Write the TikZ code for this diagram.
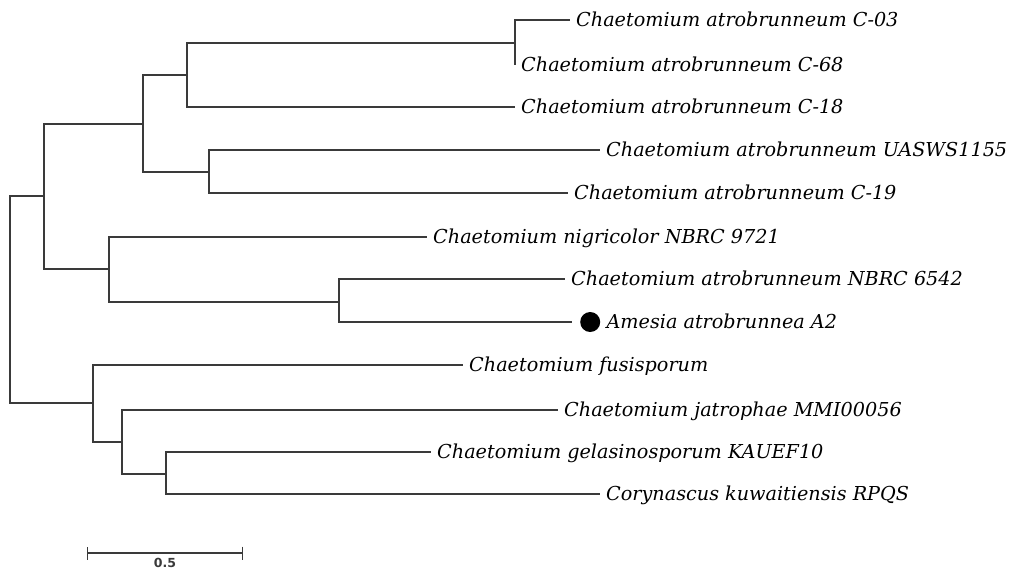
\documentclass[tikz,border=0pt]{standalone}
\usepackage{fontspec}
\setmainfont{DejaVu Serif}
\newfontfamily\scalefont{DejaVu Sans}
\usepackage{tikz}
\usetikzlibrary{arrows.meta,positioning,calc}
\definecolor{branchgray}{HTML}{3A3A3A}

\tikzset{
  branch/.style={draw=branchgray,line width=1.5pt},
  leaf/.style={anchor=west,inner xsep=6pt,inner ysep=0pt,text height=13pt,text depth=0pt,
    font=\fontsize{19.2}{22}\selectfont\itshape},
  tipdot/.style={circle,fill=black,inner sep=0pt,minimum size=20pt},
}

\begin{document}
\begin{tikzpicture}[x=1pt,y=-1pt]
  \useasboundingbox (0,0) rectangle (1012,573);
  % inner nodes of the tree
  \coordinate (root) at (10,300);
  \coordinate (nA) at (44,196);
  \coordinate (nB) at (143,124);
  \coordinate (nC) at (187,75);
  \coordinate (nD) at (515,43);
  \coordinate (nE) at (209,172);
  \coordinate (nF) at (109,269);
  \coordinate (nG) at (339,302);
  \coordinate (nH) at (93,403);
  \coordinate (nI) at (122,442);
  \coordinate (nJ) at (166,474);
  % leaves
  \node[leaf] (c03) at (570,20) {Chaetomium atrobrunneum C-03};
  \node[leaf] (c68) at (515,65) {Chaetomium atrobrunneum C-68};
  \node[leaf] (c18) at (515,107) {Chaetomium atrobrunneum C-18};
  \node[leaf] (uas) at (600,150) {Chaetomium atrobrunneum UASWS1155};
  \node[leaf] (c19) at (568,193) {Chaetomium atrobrunneum C-19};
  \node[leaf] (nig) at (427,237) {Chaetomium nigricolor NBRC 9721};
  \node[leaf] (nbrc) at (565,279) {Chaetomium atrobrunneum NBRC 6542};
  \coordinate (a2tip) at (572,322);
  \node[tipdot,right=8pt of a2tip] (a2dot) {};
  \node[leaf,right=0pt of a2dot] (a2) {Amesia atrobrunnea A2};
  \node[leaf] (fus) at (463,365) {Chaetomium fusisporum};
  \node[leaf] (jat) at (558,410) {Chaetomium jatrophae MMI00056};
  \node[leaf] (gel) at (431,452) {Chaetomium gelasinosporum KAUEF10};
  \node[leaf] (cor) at (600,494) {Corynascus kuwaitiensis RPQS};
  % branches
  \draw[branch] (root) |- (nA);
  \draw[branch] (root) |- (nH);
  \draw[branch] (nA) |- (nB);
  \draw[branch] (nA) |- (nF);
  \draw[branch] (nB) |- (nC);
  \draw[branch] (nB) |- (nE);
  \draw[branch] (nC) |- (nD);
  \draw[branch] (nC) |- (c18.west);
  \draw[branch] (nD) |- (c03.west);
  \draw[branch] (nD) |- (c68.west);
  \draw[branch] (nE) |- (uas.west);
  \draw[branch] (nE) |- (c19.west);
  \draw[branch] (nF) |- (nig.west);
  \draw[branch] (nF) |- (nG);
  \draw[branch] (nG) |- (nbrc.west);
  \draw[branch] (nG) |- (a2tip);
  \draw[branch] (nH) |- (fus.west);
  \draw[branch] (nH) |- (nI);
  \draw[branch] (nI) |- (jat.west);
  \draw[branch] (nI) |- (nJ);
  \draw[branch] (nJ) |- (gel.west);
  \draw[branch] (nJ) |- (cor.west);
  % scale bar
  \coordinate (sbL) at (87,553);
  \coordinate (sbR) at (243,553);
  \draw[branch,line width=1.2pt,{Bar[width=13pt]}-{Bar[width=13pt]}] (sbL) -- (sbR);
  \node[font=\scalefont\bfseries\fontsize{12.5}{14}\selectfont,text=branchgray,below=2pt of $(sbL)!0.5!(sbR)$] (sblabel) {0.5};
\end{tikzpicture}
\end{document}
